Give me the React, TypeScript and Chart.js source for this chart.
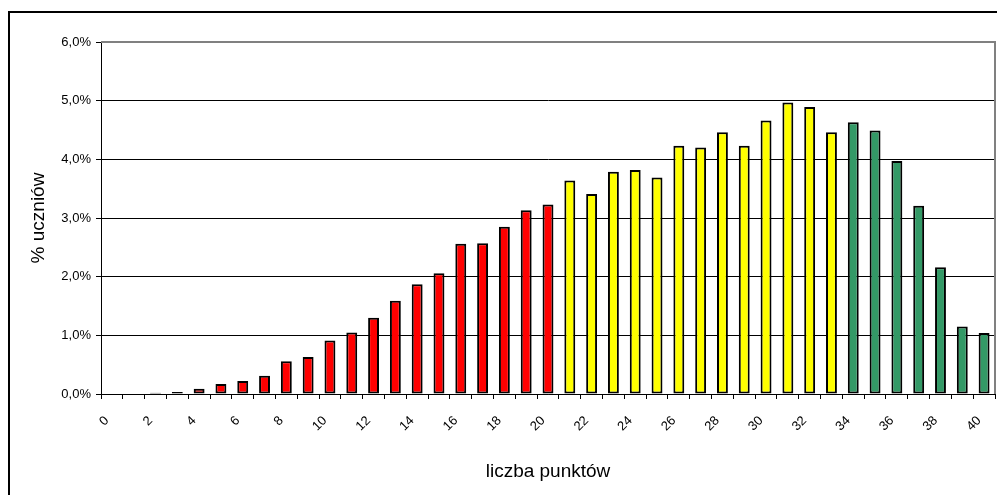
import React, { useEffect, useRef } from "react";
import { Chart, registerables } from "chart.js";

Chart.register(...registerables);

const categories: string[] = [
  "0", "1", "2", "3", "4", "5", "6", "7", "8", "9", "10",
  "11", "12", "13", "14", "15", "16", "17", "18", "19", "20",
  "21", "22", "23", "24", "25", "26", "27", "28", "29", "30",
  "31", "32", "33", "34", "35", "36", "37", "38", "39", "40",
];

// % of students per score
const percentValues: number[] = [
  0, 0, 0.02, 0.035, 0.09, 0.17, 0.22, 0.31, 0.56, 0.63, 0.91,
  1.05, 1.30, 1.59, 1.87, 2.06, 2.56, 2.57, 2.85, 3.13, 3.23,
  3.64, 3.41, 3.79, 3.82, 3.69, 4.23, 4.20, 4.46, 4.23, 4.66,
  4.97, 4.89, 4.46, 4.63, 4.49, 3.97, 3.21, 2.16, 1.15, 1.04,
];

// score groups: last score of red group, last score of yellow group
const groupLimits: number[] = [20, 33];
const groupColors: string[] = ["#FF0000", "#FFFF00", "#339966"];

const yTicks: number[] = [0, 1, 2, 3, 4, 5, 6];

const FONT = "Arial, 'Liberation Sans', sans-serif";

export default function App() {
  const ref = useRef<HTMLCanvasElement | null>(null);

  useEffect(() => {
    if (!ref.current) return;
    const colors = categories.map((c) => {
      const n = Number(c);
      if (n <= groupLimits[0]) return groupColors[0];
      if (n <= groupLimits[1]) return groupColors[1];
      return groupColors[2];
    });

    const framePlugin = {
      id: "frame",
      beforeDraw(chart: any) {
        const ctx = chart.ctx;
        ctx.save();
        ctx.fillStyle = "#fff";
        ctx.fillRect(0, 0, chart.width, chart.height);
        ctx.strokeStyle = "#000";
        ctx.lineWidth = 2;
        ctx.strokeRect(9, 12, chart.width + 20, chart.height + 20);
        ctx.restore();
      },
      afterDraw(chart: any) {
        const { left, right, top, bottom } = chart.chartArea;
        const ctx = chart.ctx;
        ctx.save();
        ctx.strokeStyle = "#808080";
        ctx.lineWidth = 2;
        ctx.beginPath();
        ctx.moveTo(left, top);
        ctx.lineTo(right, top);
        ctx.lineTo(right, bottom);
        ctx.stroke();
        ctx.restore();
      },
    };

    const chart = new Chart(ref.current, {
      type: "bar",
      data: {
        labels: categories,
        datasets: [
          {
            data: percentValues,
            backgroundColor: colors,
            borderColor: "#000",
            borderWidth: 2,
            borderSkipped: false,
            barPercentage: 0.5,
            categoryPercentage: 1.0,
          },
        ],
      },
      options: {
        responsive: false,
        animation: false,
        layout: { padding: { left: 0, top: 42, right: 2, bottom: 0 } },
        plugins: {
          legend: { display: false },
          tooltip: { enabled: false },
        },
        scales: {
          x: {
            offset: true,
            afterFit: (s: any) => {
              s.height = 101;
              s.paddingLeft = 0;
              s.paddingRight = 0;
            },
            grid: {
              offset: true,
              drawOnChartArea: false,
              drawTicks: true,
              tickLength: 5,
              color: "#000",
            },
            border: { display: true, color: "#000", width: 1 },
            ticks: {
              autoSkip: false,
              maxRotation: 45,
              minRotation: 45,
              padding: 14,
              labelOffset: -5,
              color: "#000",
              font: { family: FONT, size: 13 },
              callback: (_v: any, i: number) => (i % 2 === 0 ? categories[i] : ""),
            },
            title: {
              display: true,
              text: "liczba punktów",
              color: "#000",
              font: { family: FONT, size: 19 },
              padding: { top: 0, bottom: 12 },
            },
          },
          y: {
            min: 0,
            max: 6,
            afterFit: (s: any) => {
              s.width = 101;
              s.paddingTop = 0;
              s.paddingBottom = 0;
            },
            afterBuildTicks: (s: any) => {
              s.ticks = yTicks.map((v) => ({ value: v }));
            },
            grid: {
              color: (c: any) => (c.tick && c.tick.value === 6 ? "#808080" : "#000"),
              lineWidth: 1,
              tickColor: "#000",
              tickLength: 5,
            },
            border: { display: true, color: "#000", width: 1 },
            ticks: {
              padding: 5,
              color: "#000",
              font: { family: FONT, size: 13 },
              callback: (v: any) => Number(v).toFixed(1).replace(".", ",") + "%",
            },
            title: {
              display: true,
              text: "% uczniów",
              color: "#000",
              font: { family: FONT, size: 19 },
              padding: { top: 27, bottom: 0 },
            },
          },
        },
      },
      plugins: [framePlugin],
    });

    return () => chart.destroy();
  }, []);

  return (
    <div style={{ position: "fixed", left: 0, top: 0, width: 997, height: 495 }}>
      <canvas ref={ref} width={997} height={495} style={{ display: "block" }} />
    </div>
  );
}
